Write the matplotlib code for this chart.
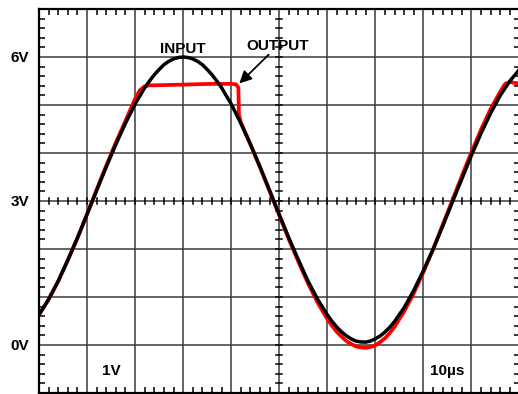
#!/usr/bin/env python3
"""
Oscillogramma: ingresso sinusoidale e uscita con clipping
"""

import numpy as np
import matplotlib.pyplot as plt
from matplotlib.ticker import MultipleLocator

# Tempo (us) e tensioni
t_input = [0, 2, 4, 6, 8, 10, 12, 14, 16, 18, 20, 22, 23, 24, 25, 26, 27, 28, 29, 30,
           31, 32, 33, 34, 35, 36, 37, 38, 40, 42, 44, 46, 48, 50, 52, 54, 56, 58, 60,
           61, 62, 63, 64, 65, 66, 67, 68, 69, 70, 71, 72, 73, 74, 76, 78, 80, 82, 84,
           86, 88, 90, 92, 94, 96, 98, 100]
v_input = [0.63, 0.95, 1.33, 1.77, 2.23, 2.72, 3.22, 3.71, 4.18, 4.62, 5.02, 5.36, 5.50,
           5.63, 5.74, 5.84, 5.91, 5.96, 5.99, 6.00, 5.99, 5.96, 5.91, 5.84, 5.74, 5.63,
           5.50, 5.36, 5.02, 4.62, 4.18, 3.71, 3.22, 2.72, 2.23, 1.77, 1.33, 0.95, 0.63,
           0.49, 0.37, 0.27, 0.19, 0.125, 0.08, 0.063, 0.06, 0.083, 0.13, 0.187, 0.27,
           0.37, 0.49, 0.78, 1.14, 1.55, 1.99, 2.47, 2.97, 3.46, 3.95, 4.41, 4.83, 5.20,
           5.50, 5.74]

t_output = [0, 2, 4, 6, 8, 10, 12, 14, 16, 18, 19, 20, 21, 22, 23, 24, 28, 32, 36, 40,
            41, 41.5, 41.6, 42, 44, 46, 48, 50, 52, 54, 56, 58, 60, 61, 62, 63, 64, 65,
            66, 67, 68, 69, 70, 71, 72, 73, 74, 76, 78, 80, 82, 84, 86, 88, 90, 92, 94,
            96, 97, 98, 99, 100]
v_output = [0.63, 0.95, 1.33, 1.77, 2.23, 2.73, 3.24, 3.74, 4.22, 4.67, 4.90, 5.13, 5.31,
            5.39, 5.41, 5.41, 5.42, 5.43, 5.44, 5.44, 5.43, 5.36, 4.80, 4.64, 4.18, 3.70,
            3.20, 2.70, 2.20, 1.73, 1.28, 0.88, 0.54, 0.40, 0.27, 0.17, 0.08, 0.02, -0.03,
            -0.05, -0.06, -0.04, -0.01, 0.06, 0.14, 0.25, 0.38, 0.70, 1.08, 1.52, 1.99,
            2.50, 3.01, 3.52, 4.02, 4.49, 4.92, 5.28, 5.44, 5.48, 5.46, 5.45]

y_labels = {0: '0V', 3: '3V', 6: '6V'}

plt.rcParams['font.family'] = ['Liberation Sans', 'DejaVu Sans']
plt.rcParams['font.weight'] = 'bold'

fig = plt.figure(figsize=(5.18, 3.94), dpi=100)
ax = fig.add_axes([39 / 518, 1 / 394, 480.5 / 518, 384 / 394])
ax.set_xlim(0, 100)
ax.set_ylim(-1, 7)

# Griglia principale
grid_col = '#3a3a3a'
ax.xaxis.set_major_locator(MultipleLocator(10))
ax.yaxis.set_major_locator(MultipleLocator(1))
ax.xaxis.set_minor_locator(MultipleLocator(2))
ax.yaxis.set_minor_locator(MultipleLocator(0.2))
ax.grid(True, which='major', color=grid_col, linewidth=1.1)
ax.tick_params(which='major', length=0, pad=7, labelsize=11)
ax.tick_params(which='minor', direction='in', length=4, width=1.1, color='black',
               top=True, right=True)
ax.set_xticklabels([])
ax.set_yticks(range(-1, 8))
ax.set_yticklabels([y_labels.get(v, '') for v in range(-1, 8)], fontweight='bold')
for s in ax.spines.values():
    s.set_linewidth(1.6)

# Tacche sugli assi centrali
hx = 0.6
hy = 0.06
for x in np.arange(0, 100.1, 2):
    ax.plot([x, x], [3 - hy, 3 + hy], color='black', lw=1.1, zorder=2)
for y in np.arange(-1, 7.01, 0.2):
    ax.plot([50 - hx, 50 + hx], [y, y], color='black', lw=1.1, zorder=2)

# Tracce
ax.plot(t_output, v_output, color='#ff0000', linewidth=2.7, zorder=3,
        solid_joinstyle='round')
ax.plot(t_input, v_input, color='black', linewidth=2.5, zorder=4,
        solid_joinstyle='round')

# Etichette
ax.text(30, 6.08, 'INPUT', ha='center', va='baseline', fontsize=11, fontweight='bold')
ax.text(49.6, 6.15, 'OUTPUT', ha='center', va='baseline', fontsize=11, fontweight='bold')
ax.annotate('', xy=(41.7, 5.45), xytext=(47.8, 6.05),
            arrowprops=dict(arrowstyle='-|>', color='black', lw=1.3,
                            mutation_scale=18, shrinkA=0, shrinkB=0))
ax.text(15, -0.55, '1V', ha='center', va='center', fontsize=11, fontweight='bold')
ax.text(85, -0.55, '10µs', ha='center', va='center', fontsize=11, fontweight='bold')

fig.savefig('out.png', dpi=100)
